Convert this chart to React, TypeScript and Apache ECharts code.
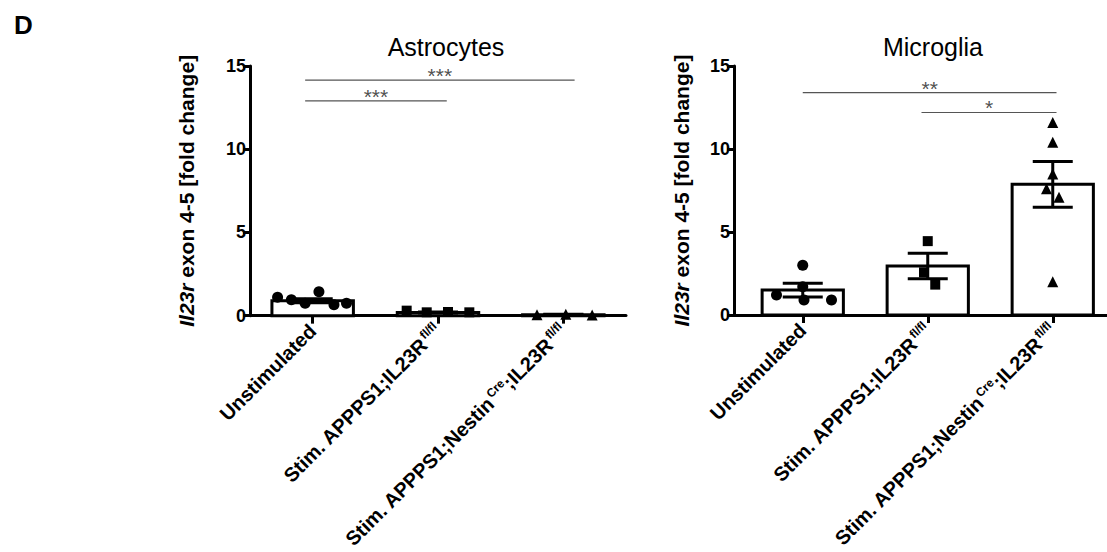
import React, { useEffect, useRef } from "react";
import * as echarts from "echarts";

// ---------- data ----------
const categoryLabels = [
  "Unstimulated",
  "Stim. APPPS1;IL23R{sup|fl/fl}",
  "Stim. APPPS1;Nestin{sup|Cre};IL23R{sup|fl/fl}",
];
const panelTitles = ["Astrocytes", "Microglia"];
const yTicks = [0, 5, 10, 15];

// Astrocytes
const astroMeans = [0.9, 0.19, 0.06];
const astroSem = [0.12, 0.03, 0.02];
const astroUnstimVals = [1.1, 0.96, 0.75, 1.44, 0.65, 0.75];
const astroUnstimJitter = [-0.28, -0.17, -0.06, 0.05, 0.17, 0.27];
const astroStimVals = [0.3, 0.2, 0.22, 0.2];
const astroStimJitter = [-0.25, -0.09, 0.08, 0.25];
const astroNestinVals = [0.05, 0.08, 0.04];
const astroNestinJitter = [-0.21, 0.02, 0.23];
const astroSig = [
  { from: -0.06, to: 2.09, y: 14.15, text: "***" },
  { from: -0.06, to: 1.07, y: 12.9, text: "***" },
];

// Microglia
const microMeans = [1.5, 2.95, 7.87];
const microSem = [0.42, 0.77, 1.38];
const microUnstimVals = [1.2, 3.0, 1.7, 0.9, 0.9];
const microUnstimJitter = [-0.21, 0.0, 0.0, 0.01, 0.23];
const microStimVals = [4.45, 2.57, 1.83];
const microStimJitter = [0.0, -0.03, 0.06];
const microNestinVals = [11.6, 10.4, 8.5, 7.6, 7.1, 2.0];
const microNestinJitter = [0.0, 0.0, 0.0, -0.05, 0.05, 0.0];
const microSig = [
  { from: 0.0, to: 2.03, y: 13.4, text: "**" },
  { from: 0.95, to: 2.03, y: 12.2, text: "*" },
];

// ---------- helpers ----------
const FONT = "'Liberation Sans', Arial, sans-serif";

function pts(cat: number, vals: number[], jit: number[]) {
  return vals.map((v, i) => [cat + jit[i], v]);
}

function buildPanel(
  gi: number,
  means: number[],
  sem: number[],
  groups: number[][][],
  sig: { from: number; to: number; y: number; text: string }[],
  xMin: number,
  xMax: number,
  nameGap: number
) {
  const xAxis = {
    type: "value",
    gridIndex: gi,
    min: xMin,
    max: xMax,
    splitLine: { show: false },
    axisLine: { show: true, onZero: false, lineStyle: { color: "#000", width: 3 } },
    axisTick: {
      show: true,
      customValues: [0, 1, 2],
      length: 8,
      lineStyle: { color: "#000", width: 3 },
    },
    axisLabel: {
      show: true,
      customValues: [0, 1, 2],
      rotate: 45,
      margin: 12,
      formatter: (v: number) => categoryLabels[Math.round(v)],
      color: "#000",
      fontFamily: FONT,
      fontWeight: "bold",
      fontSize: 20,
      rich: {
        sup: {
          fontSize: 12,
          fontWeight: "bold",
          fontFamily: FONT,
          color: "#000",
          verticalAlign: "top",
          padding: [0, 0, 10, 2],
        },
      },
    },
  };
  const yAxis = {
    type: "value",
    gridIndex: gi,
    min: 0,
    max: 15,
    interval: 5,
    splitLine: { show: false },
    axisLine: { show: true, onZero: false, lineStyle: { color: "#000", width: 3 } },
    axisTick: { show: true, length: 7, lineStyle: { color: "#000", width: 3 } },
    axisLabel: {
      color: "#000",
      fontFamily: FONT,
      fontWeight: "bold",
      fontSize: 18,
      margin: 4,
      formatter: (v: number) => (yTicks.includes(v) ? String(v) : ""),
    },
    name: "{i|Il23r} exon 4-5 [fold change]",
    nameLocation: "middle",
    nameRotate: 90,
    nameGap: nameGap,
    nameTextStyle: {
      color: "#000",
      fontFamily: FONT,
      fontWeight: "bold",
      fontSize: 21,
      rich: {
        i: {
          fontStyle: "italic",
          fontWeight: "bold",
          fontFamily: FONT,
          fontSize: 21,
          color: "#000",
        },
      },
    },
  };

  const barData = means.map((m, i) => [i, m, sem[i]]);
  const series: any[] = [];
  series.push({
    type: "custom",
    xAxisIndex: gi,
    yAxisIndex: gi,
    z: 2,
    data: barData,
    renderItem: (_p: any, api: any) => {
      const x = api.value(0);
      const y = api.value(1);
      const p0 = api.coord([x, 0]);
      const p1 = api.coord([x, y]);
      const bw = api.size([0.65, 0])[0];
      return {
        type: "rect",
        shape: { x: p0[0] - bw / 2, y: p1[1], width: bw, height: p0[1] - p1[1] },
        style: { fill: "#fff", stroke: "#000", lineWidth: 3 },
      };
    },
  });
  const symbols = ["circle", "rect", "triangle"];
  const sizes = [11, 10, 11];
  groups.forEach((g, i) => {
    series.push({
      type: "scatter",
      xAxisIndex: gi,
      yAxisIndex: gi,
      z: 3,
      symbol: symbols[i],
      symbolSize: sizes[i],
      itemStyle: { color: "#000", opacity: 1 },
      data: g,
    });
  });
  series.push({
    type: "custom",
    xAxisIndex: gi,
    yAxisIndex: gi,
    z: 4,
    data: barData,
    renderItem: (_p: any, api: any) => {
      const x = api.value(0);
      const y = api.value(1);
      const e = api.value(2);
      const top = api.coord([x, y + e]);
      const bot = api.coord([x, Math.max(0, y - e)]);
      const cw = api.size([0.32, 0])[0];
      const st = { stroke: "#000", lineWidth: 3 };
      return {
        type: "group",
        children: [
          { type: "line", shape: { x1: top[0], y1: top[1], x2: bot[0], y2: bot[1] }, style: st },
          { type: "line", shape: { x1: top[0] - cw / 2, y1: top[1], x2: top[0] + cw / 2, y2: top[1] }, style: st },
          { type: "line", shape: { x1: bot[0] - cw / 2, y1: bot[1], x2: bot[0] + cw / 2, y2: bot[1] }, style: st },
        ],
      };
    },
  });
  sig.forEach((s) => {
    series.push({
      type: "line",
      xAxisIndex: gi,
      yAxisIndex: gi,
      z: 5,
      symbol: "none",
      lineStyle: { color: "#555", width: 1.2 },
      data: [
        [s.from, s.y],
        [s.to, s.y],
      ],
    });
    series.push({
      type: "scatter",
      xAxisIndex: gi,
      yAxisIndex: gi,
      z: 5,
      symbolSize: 0,
      data: [[(s.from + s.to) / 2, s.y]],
      label: {
        show: true,
        position: "top",
        distance: -6,
        formatter: s.text,
        color: "#222",
        fontFamily: FONT,
        fontSize: 21,
      },
    });
  });
  return { xAxis, yAxis, series };
}

export default function App() {
  const ref = useRef<HTMLDivElement>(null);
  useEffect(() => {
    if (!ref.current) return;
    const chart = echarts.init(ref.current, null, { renderer: "svg" });
    const left = buildPanel(
      0,
      astroMeans,
      astroSem,
      [
        pts(0, astroUnstimVals, astroUnstimJitter),
        pts(1, astroStimVals, astroStimJitter),
        pts(2, astroNestinVals, astroNestinJitter),
      ],
      astroSig,
      -0.5,
      2.5,
      53
    );
    const right = buildPanel(
      1,
      microMeans,
      microSem,
      [
        pts(0, microUnstimVals, microUnstimJitter),
        pts(1, microStimVals, microStimJitter),
        pts(2, microNestinVals, microNestinJitter),
      ],
      microSig,
      -0.55,
      2.434,
      42
    );
    chart.setOption({
      animation: false,
      backgroundColor: "#fff",
      title: [
        {
          text: panelTitles[0],
          left: 441,
          top: 29,
          textAlign: "center",
          textStyle: { fontFamily: FONT, fontWeight: "normal", fontSize: 25, color: "#000" },
        },
        {
          text: panelTitles[1],
          left: 928,
          top: 29,
          textAlign: "center",
          textStyle: { fontFamily: FONT, fontWeight: "normal", fontSize: 25, color: "#000" },
        },
        {
          text: "D",
          left: 9,
          top: 7,
          textStyle: { fontFamily: FONT, fontWeight: "bold", fontSize: 26, color: "#000" },
        },
      ],
      grid: [
        { left: 250, top: 66, width: 376, height: 250 },
        { left: 734, top: 66, width: 373, height: 249 },
      ],
      xAxis: [left.xAxis, right.xAxis],
      yAxis: [left.yAxis, right.yAxis],
      series: [...left.series, ...right.series],
    });
    return () => chart.dispose();
  }, []);
  return (
    <div
      ref={ref}
      style={{ position: "absolute", left: 0, top: 0, width: 1107, height: 552 }}
    />
  );
}
